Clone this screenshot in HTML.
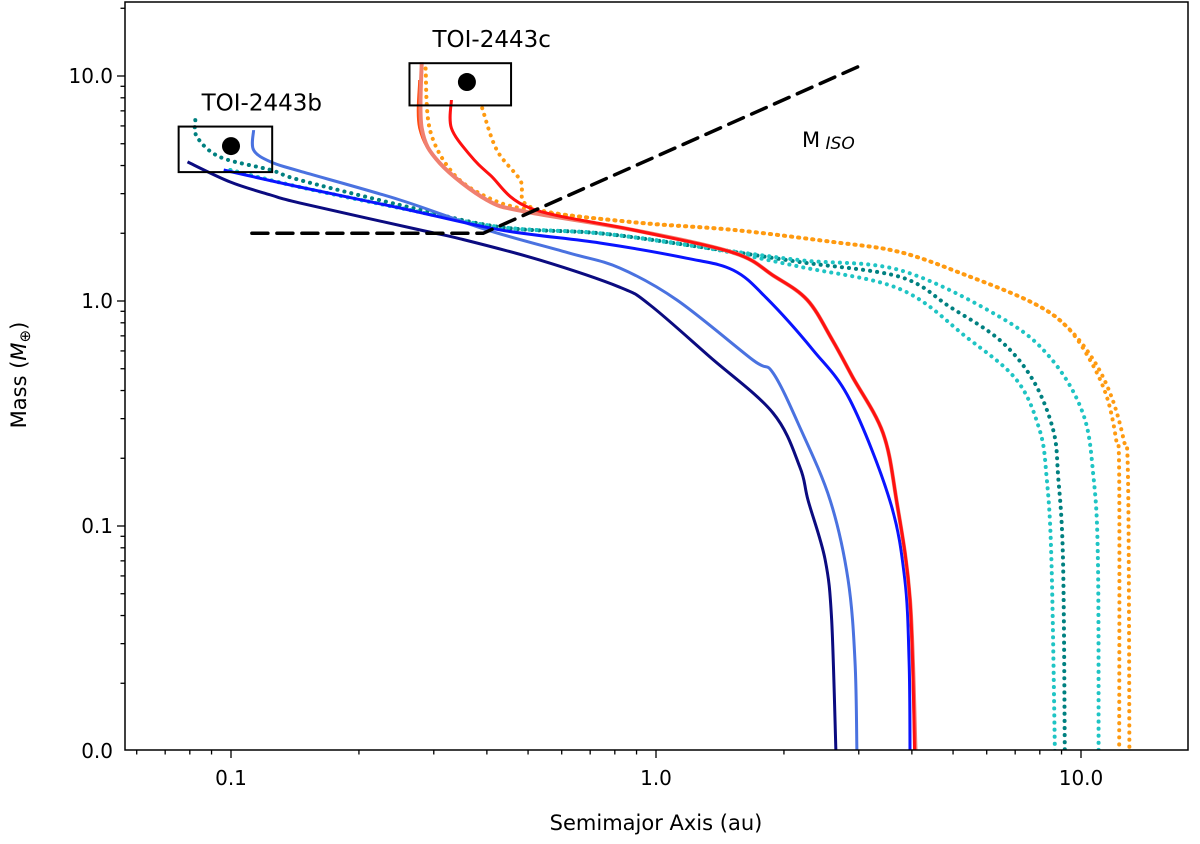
<!DOCTYPE html>
<html><head><meta charset="utf-8"><style>
body{margin:0;background:#fff}
svg text{font-family:"DejaVu Sans","Liberation Sans",sans-serif;fill:#000}
</style></head><body>
<svg id="c" width="1200" height="839" xmlns="http://www.w3.org/2000/svg"></svg>
<script>
const navyA=[0.079,0.0996,0.124,0.145,0.278,0.346,0.533,0.823,0.968,1.34,1.885,2.18,2.28,2.5,2.59,2.65];
const navyM=[4.15,3.38,2.96,2.73,2.07,1.89,1.52,1.15,0.96,0.564,0.318,0.183,0.13,0.071,0.038,0.01];
const lightA=[0.113,0.113,0.124,0.145,0.25,0.40,0.628,0.823,1.12,1.69,1.885,2.18,2.57,2.83,2.94,2.97];
const lightM=[5.75,4.69,4.15,3.78,2.81,2.07,1.63,1.40,1.01,0.547,0.479,0.275,0.13,0.058,0.025,0.01];
const blueA=[0.0961,0.145,0.25,0.43,0.738,1.18,1.52,1.82,2.34,2.86,3.55,3.85,3.94,3.96];
const blueM=[3.82,3.21,2.59,2.07,1.81,1.55,1.37,1.03,0.606,0.363,0.13,0.058,0.025,0.01];
const redA=[0.33,0.33,0.365,0.407,0.505,0.883,1.52,1.885,2.27,2.60,2.90,3.42,3.68,3.96,4.06];
const redM=[7.82,5.87,4.45,3.63,2.59,2.07,1.64,1.3,1.01,0.67,0.46,0.259,0.13,0.047,0.01];
const salmonA=[0.281,0.281,0.31,0.40,0.497,0.883,1.52,1.885,2.27,2.60,2.90,3.42,3.68,3.96,4.08];
const salmonM=[11.5,5.87,4.1,2.81,2.49,2.07,1.64,1.3,1.01,0.67,0.46,0.259,0.13,0.047,0.01];
const orA=[0.278,0.278,0.31,0.40,0.497,0.883,1.52,1.885,2.27,2.60,2.90,3.42,3.68,3.96,4.08];
const orM=[9.6,5.87,4.1,2.81,2.49,2.07,1.64,1.3,1.01,0.67,0.46,0.259,0.13,0.047,0.01];
const orange1A=[0.287,0.294,0.333,0.40,0.505,0.883,1.52,2.60,3.75,5.38,7.71,9.25,10.5,11.5,12.1,12.3,12.3];
const orange1M=[10.8,5.75,3.7,2.9,2.54,2.24,2.07,1.83,1.65,1.3,0.98,0.77,0.547,0.375,0.241,0.165,0.01];
const orange2A=[0.39,0.422,0.479,0.513,0.883,1.52,2.60,3.75,5.38,7.71,9.25,10.7,11.8,12.6,12.9,13.0];
const orange2M=[7.2,4.69,3.45,2.59,2.24,2.07,1.83,1.65,1.3,0.98,0.77,0.547,0.375,0.241,0.165,0.01];
const cyan1A=[0.0996,0.145,0.25,0.43,0.738,1.27,2.18,3.75,5.38,7.06,7.99,8.30,8.52,8.68];
const cyan1M=[3.82,3.21,2.59,2.13,2.0,1.74,1.42,1.13,0.69,0.445,0.267,0.165,0.071,0.01];
const cyan2A=[0.0996,0.145,0.25,0.43,0.738,1.27,2.18,3.75,6.44,8.44,10.1,10.7,10.96,11.0];
const cyan2M=[3.82,3.21,2.59,2.13,2.0,1.74,1.52,1.37,0.85,0.564,0.318,0.165,0.071,0.01];
const tealA=[0.0824,0.0832,0.0943,0.124,0.145,0.25,0.43,0.738,1.27,2.18,3.75,4.92,6.44,7.71,8.60,8.84,9.07,9.16];
const tealM=[6.37,5.35,4.36,3.82,3.45,2.67,2.13,2.0,1.74,1.49,1.28,0.94,0.67,0.445,0.267,0.165,0.071,0.01];
const isoA=[0.112,0.392,2.99];
const isoM=[2.0,2.0,11.0];
const planetNames=["TOI-2443b","TOI-2443c"];
const planetA=[0.1,0.359];
const planetM=[4.88,9.4];
const boxA0=[0.0753,0.263],boxA1=[0.125,0.456],boxM0=[3.74,7.4],boxM1=[5.96,11.4];
const xTicks=[0.1,1,10],xTickLabels=["0.1","1.0","10.0"];
const yTicks=[0.01,0.1,1,10],yTickLabels=["0.0","0.1","1.0","10.0"];

const L=125,R=1188,T=2,B=750;
const X=a=>656+425*Math.log10(a);
const Y=m=>301-225*Math.log10(m);
const svg=document.getElementById('c');
const NS="http://www.w3.org/2000/svg";
function mk(tag,attrs,parent){const e=document.createElementNS(NS,tag);for(const k in attrs)e.setAttribute(k,attrs[k]);(parent||svg).appendChild(e);return e;}

const plot=mk('g',{});


const defs=mk('defs',{});
const cp=mk('clipPath',{id:'cp'},defs);mk('rect',{x:L,y:T,width:R-L,height:B-T},cp);
const lines=mk('g',{'clip-path':'url(#cp)'},plot);

function smoothPath(P){
  let d='M'+P[0][0].toFixed(1)+','+P[0][1].toFixed(1);
  for(let i=0;i<P.length-1;i++){
    const p0=P[Math.max(0,i-1)],p1=P[i],p2=P[i+1],p3=P[Math.min(P.length-1,i+2)];
    const c1=[p1[0]+(p2[0]-p0[0])/6,p1[1]+(p2[1]-p0[1])/6];
    const c2=[p2[0]-(p3[0]-p1[0])/6,p2[1]-(p3[1]-p1[1])/6];
    d+='C'+c1[0].toFixed(1)+','+c1[1].toFixed(1)+' '+c2[0].toFixed(1)+','+c2[1].toFixed(1)+' '+p2[0].toFixed(1)+','+p2[1].toFixed(1);
  }
  return d;
}
function series(name,A,M,color,w,dash,smooth){
  const P=A.map((a,i)=>[X(a),Y(M[i])]);
  const d=smooth===false?P.map((p,i)=>(i?'L':'M')+p[0].toFixed(1)+','+p[1].toFixed(1)).join(''):smoothPath(P);
  const p=mk('path',{d:d,fill:'none',stroke:color,'stroke-width':w,'stroke-linejoin':'round'},lines);
  if(dash){p.setAttribute('stroke-dasharray',dash);p.setAttribute('stroke-linecap','round');}
  
  
}
series('curve-teal-dotted',tealA,tealM,'#008080',4,'0.1 7');
series('curve-cyan-dotted-1',cyan1A,cyan1M,'#1fc4c4',4,'0.1 7');
series('curve-cyan-dotted-2',cyan2A,cyan2M,'#1fc4c4',4,'0.1 7');
series('curve-orange-dotted-1',orange1A,orange1M,'#ff9a10',4,'0.1 7');
series('curve-orange-dotted-2',orange2A,orange2M,'#ff9a10',4,'0.1 7');
series('curve-navy',navyA,navyM,'#0b0b80',3,null);
series('curve-cornflower',lightA,lightM,'#4a72e0',3,null);
series('curve-blue',blueA,blueM,'#0a14ff',3,null);
series('curve-orangered',orA,orM,'#ff4a10',3,null);
series('curve-salmon',salmonA,salmonM,'#f08070',4,null);
series('curve-red',redA,redM,'#ff1010',3,null);
series('isolation-mass-line',isoA,isoM,'#000',3.5,'16 9',false);

planetNames.forEach((n,i)=>{
  const r=mk('rect',{x:X(boxA0[i]),y:Y(boxM1[i]),width:X(boxA1[i])-X(boxA0[i]),height:Y(boxM0[i])-Y(boxM1[i]),fill:'none',stroke:'#000','stroke-width':2},plot);
  
  
  const c=mk('circle',{cx:X(planetA[i]),cy:Y(planetM[i]),r:9,fill:'#000'},plot);
  
  
  const t=mk('text',{x:X(boxA0[i])+23,y:Y(boxM1[i])-16,'font-size':23},plot);
  t.textContent=n;
  
  
});
const iso=mk('text',{x:802,y:147,'font-size':21},plot);
iso.innerHTML='M<tspan font-style="italic" font-size="17" dy="2"> ISO</tspan>';



const frame=mk('rect',{x:L,y:T,width:R-L,height:B-T,fill:'none',stroke:'#000','stroke-width':1.5});



const xa=mk('g',{});


for(let e=-2;e<=1;e++)for(let k=1;k<10;k++){const v=k*Math.pow(10,e);const x=X(v);if(x<L||x>R)continue;
  mk('line',{x1:x,x2:x,y1:B,y2:B+(k==1?8:4.5),stroke:'#000','stroke-width':1.3},xa);}
xTicks.forEach((v,i)=>{const t=mk('text',{x:X(v),y:B+35,'font-size':20,'text-anchor':'middle'},xa);t.textContent=xTickLabels[i];
  
  });
const xt=mk('text',{x:656,y:830,'font-size':21,'text-anchor':'middle'},xa);xt.textContent='Semimajor Axis (au)';



const ya=mk('g',{});


for(let e=-2;e<=1;e++)for(let k=1;k<10;k++){const v=k*Math.pow(10,e);const y=Y(v);if(y<T||y>B)continue;
  mk('line',{x1:L,x2:L-(k==1?8:4.5),y1:y,y2:y,stroke:'#000','stroke-width':1.3},ya);}
yTicks.forEach((v,i)=>{const t=mk('text',{x:L-12,y:Y(v)+7,'font-size':20,'text-anchor':'end'},ya);t.textContent=yTickLabels[i];
  
  });
const yt=mk('text',{x:0,y:0,'font-size':21,'text-anchor':'middle',transform:'translate(26,375) rotate(-90)'},ya);
yt.innerHTML='Mass (<tspan font-style="italic">M</tspan><tspan font-size="15" dy="4">⊕</tspan><tspan dy="-4">)</tspan>';


</script>
</body></html>
